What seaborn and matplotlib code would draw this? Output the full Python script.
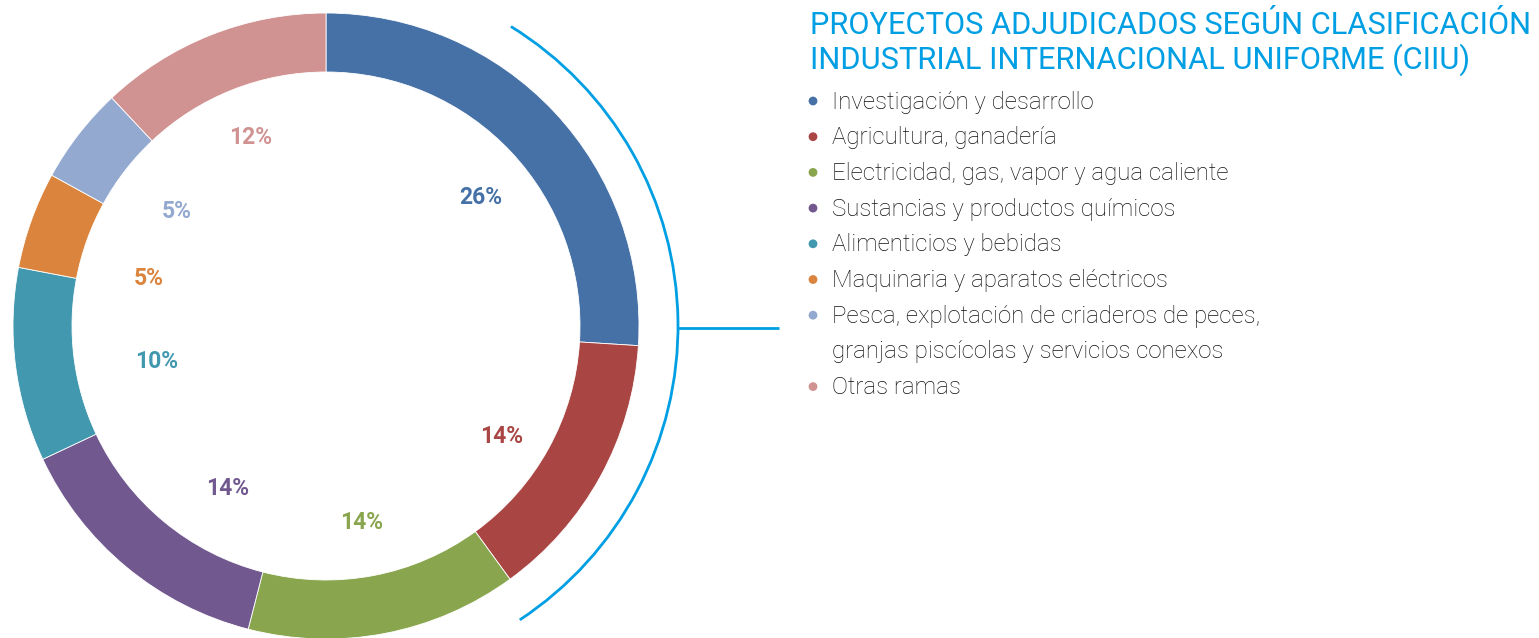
import numpy as np
import matplotlib
matplotlib.use("Agg")
import matplotlib.pyplot as plt
from matplotlib.patches import Arc
import seaborn as sns

categories = [
    "Investigación y desarrollo",
    "Agricultura, ganadería",
    "Electricidad, gas, vapor y agua caliente",
    "Sustancias y productos químicos",
    "Alimenticios y bebidas",
    "Maquinaria y aparatos eléctricos",
    "Pesca, explotación de criaderos de peces,\ngranjas piscícolas y servicios conexos",
    "Otras ramas",
]
values = [26, 14, 14, 14, 10, 5, 5, 12]
colors = ["#4571a6", "#a94644", "#89a54e", "#71588f",
          "#4198af", "#db843d", "#93a9cf", "#d09392"]
title_lines = ["PROYECTOS ADJUDICADOS SEGÚN CLASIFICACIÓN",
               "INDUSTRIAL INTERNACIONAL UNIFORME (CIIU)"]

sns.set_theme(style="white")
plt.rcParams["font.family"] = ["Roboto", "DejaVu Sans"]

W, H = 1539, 638
fig = plt.figure(figsize=(W / 100, H / 100), dpi=100)
ax = fig.add_axes([0, 0, 1, 1])

cx, cy = 326, H - 326
R = 313
palette = sns.color_palette(colors)

wedges, texts, autotexts = ax.pie(
    values, colors=palette, startangle=90, counterclock=False,
    center=(cx, cy), radius=R, autopct="%d%%", pctdistance=0.64,
    wedgeprops=dict(width=59, edgecolor="white", linewidth=0.6),
    textprops=dict(fontsize=16.5, fontweight="bold"),
)
ax.set_xlim(0, W)
ax.set_ylim(0, H)
ax.set_aspect("equal")
ax.axis("off")

# small label nudges (pixels) to mimic the original label placement
nudges = [(9, -9), (0, -14), (-2, 0), (29, -8), (29, -10), (11, -20), (9, -8), (-2, 2)]
for t, c, (dx, dy) in zip(autotexts, palette, nudges):
    t.set_color(c)
    x, y = t.get_position()
    t.set_position((x + dx, y + dy))

# bracket arc + connector
accent = "#009fe3"
ax.add_patch(Arc((cx, cy), 2 * 352, 2 * 352, theta1=-56.6, theta2=58.3,
                 color=accent, lw=2))
ax.plot([678, 779], [H - 328, H - 328], color=accent, lw=2,
        solid_capstyle="butt")

# title
for i, line in enumerate(title_lines):
    ax.text(810, H - (26 + 34 * i), line, fontsize=22.2, color=accent,
            ha="left", va="center")

# legend
y = 102
step = 35.7
for name, c in zip(categories, palette):
    parts = name.split("\n")
    ax.scatter([813], [H - y + 1], s=40, color=c, edgecolors="none")
    for j, p in enumerate(parts):
        ax.text(832, H - (y + j * step), p, fontsize=17.3, fontweight="light",
                color="#111111", ha="left", va="center")
    y += step * len(parts)

fig.savefig("out.png", dpi=100, facecolor="white")
